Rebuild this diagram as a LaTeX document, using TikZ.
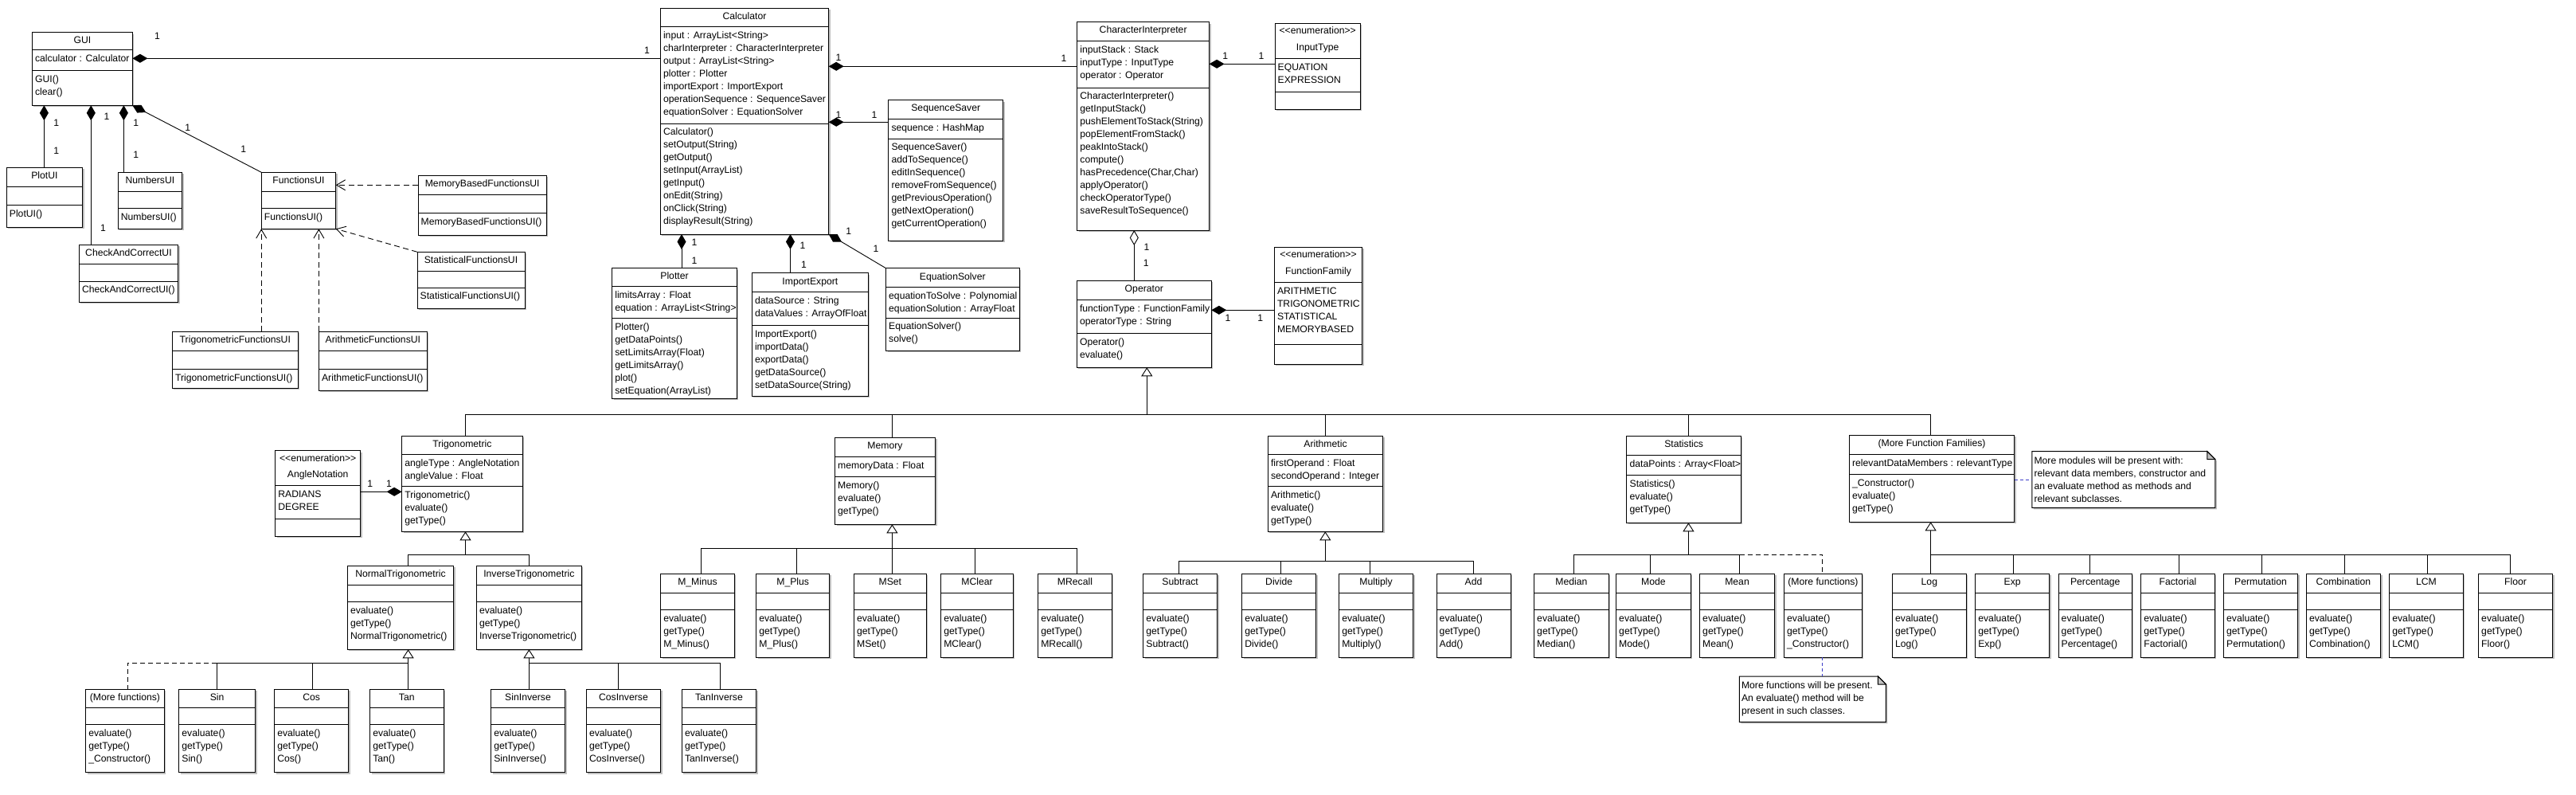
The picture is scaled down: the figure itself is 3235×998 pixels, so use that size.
\documentclass[tikz,border=0pt]{standalone}
\usepackage{fontspec}
\setmainfont{Liberation Sans}
\usetikzlibrary{arrows.meta}
\definecolor{notecol}{RGB}{60,60,200}
\definecolor{shadowcol}{RGB}{190,190,190}
\definecolor{foldcol}{RGB}{192,192,192}
\newcommand\uf{\fontsize{12.2}{16}\selectfont}
\newcommand\fs{\rule{0pt}{10pt}}
\newcommand\stereo{\textless\kern0pt\textless\kern0pt enumeration\kern0pt\textgreater\kern0pt\textgreater}
\tikzset{
 box/.style={draw, line width=1pt, fill=white, inner sep=0pt, outer sep=0pt, rectangle},
 txt/.style={anchor=north west, inner sep=0pt, align=left, font=\uf},
 ttl/.style={anchor=base, inner sep=0pt, font=\uf},
 mult/.style={inner sep=0pt, font=\uf},
 conn/.style={line width=0.9pt},
 comp/.style={conn, {Diamond[length=19pt,width=11pt]}-},
 aggr/.style={conn, {Diamond[open,length=19pt,width=11pt]}-},
 gen/.style={conn, -{Triangle[open,length=11pt,width=14pt]}},
 dep/.style={conn, dash pattern=on 7pt off 4.5pt, -{Straight Barb[length=11pt,width=13pt]}},
 dashedconn/.style={conn, dash pattern=on 6pt off 4pt},
 noteline/.style={conn, notecol, dash pattern=on 4pt off 3pt},
}
% #1 name, #2 L, #3 T, #4 R, #5 B, #6 d1, #7 d2, #8 title, #9 attributes
\newcommand\cls[9]{%
  \fill[shadowcol] ({#2+2},{#3+2}) rectangle ({#4+2},{#5+2});
  \node[box, minimum width={#4-#2}, minimum height={#5-#3}] (#1) at ({(#2+#4)/2},{(#3+#5)/2}) {};
  \draw[line width=1pt] (#2,#6) -- (#4,#6);
  \draw[line width=1pt] (#2,#7) -- (#4,#7);
  \node[ttl] (#1-t) at ({(#2+#4)/2},{(#3+#6)/2+2.3}) {#8};
  \node[txt] (#1-a) at ({#2+3.5},{#6+4.5}) {\fs#9};
  \gdef\lastL{#2}\gdef\lastD{#7}\gdef\lastN{#1}}
\newcommand\enm[9]{%
  \fill[shadowcol] ({#2+2},{#3+2}) rectangle ({#4+2},{#5+2});
  \node[box, minimum width={#4-#2}, minimum height={#5-#3}] (#1) at ({(#2+#4)/2},{(#3+#5)/2}) {};
  \draw[line width=1pt] (#2,#6) -- (#4,#6);
  \draw[line width=1pt] (#2,#7) -- (#4,#7);
  \node[ttl] (#1-s) at ({(#2+#4)/2},{#3+13.6}) {\stereo};
  \node[ttl] (#1-t) at ({(#2+#4)/2},{#3+33.8}) {#8};
  \node[txt] (#1-a) at ({#2+3.5},{#6+4.5}) {\fs#9};
  \gdef\lastL{#2}\gdef\lastD{#7}\gdef\lastN{#1}}
\newcommand\mth[1]{\node[txt] (\lastN-m) at ({\lastL+3.5},{\lastD+4.5}) {\fs#1};}
% #1 name, #2 L, #3 T, #4 R, #5 B, #6 text
\newcommand\umlnote[6]{%
  \fill[shadowcol] ({#2+2},{#3+2}) -- ({#4-8},{#3+2}) -- ({#4+2},{#3+12}) -- ({#4+2},{#5+2}) -- ({#2+2},{#5+2}) -- cycle;
  \node[inner sep=0pt, outer sep=0pt, minimum width={#4-#2}, minimum height={#5-#3}] (#1) at ({(#2+#4)/2},{(#3+#5)/2}) {};
  \draw[line width=1pt, fill=white] (#2,#3) -- ({#4-10},#3) -- (#4,{#3+10}) -- (#4,#5) -- (#2,#5) -- cycle;
  \draw[line width=1pt, fill=foldcol] ({#4-10},#3) -- ({#4-10},{#3+10}) -- (#4,{#3+10}) -- cycle;
  \node[txt] (#1-x) at ({#2+2.5},{#3+5.3}) {\fs#6};}
\begin{document}
\begin{tikzpicture}[x=1pt,y=-1pt]
\fill[white] (0,0) rectangle (3235,998);
\useasboundingbox (0,0) rectangle (3235,998);

% ---------- UI classes
\cls{gui}{40.4}{40.7}{166.4}{132.3}{63}{88.3}{GUI}{calculator : Calculator}\mth{GUI()\\clear()}
\cls{plotui}{8.2}{210.3}{103.6}{285.3}{234.3}{257.7}{PlotUI}{}\mth{PlotUI()}
\cls{checkui}{99.3}{307.3}{223.6}{379}{331.5}{353}{CheckAndCorrectUI}{}\mth{CheckAndCorrectUI()}
\cls{numbersui}{148.2}{216.3}{228.6}{287.3}{240.3}{261.3}{NumbersUI}{}\mth{NumbersUI()}
\cls{funcui}{328.2}{216.3}{421.8}{287.3}{240.3}{261.3}{FunctionsUI}{}\mth{FunctionsUI()}
\cls{memui}{525}{220.3}{686.4}{295.3}{244.3}{267.3}{MemoryBasedFunctionsUI}{}\mth{MemoryBasedFunctionsUI()}
\cls{statui}{524}{316.3}{659}{387.3}{340.7}{361}{StatisticalFunctionsUI}{}\mth{StatisticalFunctionsUI()}
\cls{trigui}{216.4}{416.3}{374.3}{487.3}{440.3}{463.3}{TrigonometricFunctionsUI}{}\mth{TrigonometricFunctionsUI()}
\cls{arithui}{400.4}{416.3}{536.4}{490}{440.3}{463.3}{ArithmeticFunctionsUI}{}\mth{ArithmeticFunctionsUI()}

% ---------- core classes
\cls{calc}{829.3}{10.3}{1040.7}{294}{33.3}{155}{Calculator}{input : ArrayList<String>\\charInterpreter : CharacterInterpreter\\output : ArrayList<String>\\plotter : Plotter\\importExport : ImportExport\\operationSequence : SequenceSaver\\equationSolver : EquationSolver}
\mth{Calculator()\\setOutput(String)\\getOutput()\\setInput(ArrayList)\\getInput()\\onEdit(String)\\onClick(String)\\displayResult(String)}
\cls{plotter}{768.6}{336.7}{925.4}{500}{359.3}{399.3}{Plotter}{limitsArray : Float\\equation : ArrayList<String>}
\mth{Plotter()\\getDataPoints()\\setLimitsArray(Float)\\getLimitsArray()\\plot()\\setEquation(ArrayList)}
\cls{impexp}{944.3}{342.7}{1090.4}{497}{366.7}{408.3}{ImportExport}{dataSource : String\\dataValues : ArrayOfFloat}
\mth{ImportExport()\\importData()\\exportData()\\getDataSource()\\setDataSource(String)}
\cls{eqsolver}{1112.5}{336.7}{1280}{440}{360.7}{399}{EquationSolver}{equationToSolve : Polynomial\\equationSolution : ArrayFloat}
\mth{EquationSolver()\\solve()}
\cls{seqsaver}{1115.8}{125.7}{1259.7}{302.3}{149.3}{174}{SequenceSaver}{sequence : HashMap}
\mth{SequenceSaver()\\addToSequence()\\editInSequence()\\removeFromSequence()\\getPreviousOperation()\\getNextOperation()\\getCurrentOperation()}
\cls{charint}{1352.7}{27.7}{1518.6}{289}{51.7}{110}{CharacterInterpreter}{inputStack : Stack\\inputType : InputType\\operator : Operator}
\mth{CharacterInterpreter()\\getInputStack()\\pushElementToStack(String)\\popElementFromStack()\\peakIntoStack()\\compute()\\hasPrecedence(Char,Char)\\applyOperator()\\checkOperatorType()\\saveResultToSequence()}
\enm{inputtype}{1601}{29.3}{1708.4}{137.3}{73.3}{115.3}{InputType}{EQUATION\\EXPRESSION}
\enm{funcfam}{1600.3}{310.3}{1710.7}{457.3}{354.3}{432.3}{FunctionFamily}{ARITHMETIC\\TRIGONOMETRIC\\STATISTICAL\\MEMORYBASED}
\cls{operator}{1352.3}{352.3}{1521.3}{461.3}{376.3}{418.3}{Operator}{functionType : FunctionFamily\\operatorType : String}
\mth{Operator()\\evaluate()}

% ---------- function families
\cls{trig}{504.6}{547.3}{656.3}{667.3}{570.3}{610.3}{Trigonometric}{angleType : AngleNotation\\angleValue : Float}
\mth{Trigonometric()\\evaluate()\\getType()}
\enm{anglenot}{345.6}{565.7}{452.8}{673.3}{609.3}{651.3}{AngleNotation}{RADIANS\\DEGREE}
\cls{normtrig}{436.3}{710.3}{569.7}{815.3}{734.3}{755.7}{NormalTrigonometric}{}\mth{evaluate()\\getType()\\NormalTrigonometric()}
\cls{invtrig}{598.3}{710.3}{730.4}{815.3}{734.3}{755.7}{InverseTrigonometric}{}\mth{evaluate()\\getType()\\InverseTrigonometric()}
\cls{moretrig}{107.6}{865}{206.3}{969.5}{888.5}{909.5}{(More functions)}{}\mth{evaluate()\\getType()\\\_Constructor()}
\cls{sin}{224.7}{865}{320.5}{969.5}{888.5}{909.5}{Sin}{}\mth{evaluate()\\getType()\\Sin()}
\cls{cos}{344.6}{865}{437.6}{969.5}{888.5}{909.5}{Cos}{}\mth{evaluate()\\getType()\\Cos()}
\cls{tan}{464.6}{865}{557}{969.5}{888.5}{909.5}{Tan}{}\mth{evaluate()\\getType()\\Tan()}
\cls{sininv}{616.6}{865}{709.5}{969.5}{888.5}{909.5}{SinInverse}{}\mth{evaluate()\\getType()\\SinInverse()}
\cls{cosinv}{736.3}{865}{829.6}{969.5}{888.5}{909.5}{CosInverse}{}\mth{evaluate()\\getType()\\CosInverse()}
\cls{taninv}{856.3}{865}{949.6}{969.5}{888.5}{909.5}{TanInverse}{}\mth{evaluate()\\getType()\\TanInverse()}

\cls{memory}{1048.5}{549.3}{1174.5}{658.3}{573.3}{598.7}{Memory}{memoryData : Float}\mth{Memory()\\evaluate()\\getType()}
\cls{mminus}{829.6}{720.3}{922.4}{825.3}{744.3}{765.7}{M\_Minus}{}\mth{evaluate()\\getType()\\M\_Minus()}
\cls{mplus}{949.6}{720.3}{1041.8}{825.3}{744.3}{765.7}{M\_Plus}{}\mth{evaluate()\\getType()\\M\_Plus()}
\cls{mset}{1072.4}{720.3}{1163.3}{825.3}{744.3}{765.7}{MSet}{}\mth{evaluate()\\getType()\\MSet()}
\cls{mclear}{1181.6}{720.3}{1272.4}{825.3}{744.3}{765.7}{MClear}{}\mth{evaluate()\\getType()\\MClear()}
\cls{mrecall}{1303.6}{720.3}{1396.4}{825.3}{744.3}{765.7}{MRecall}{}\mth{evaluate()\\getType()\\MRecall()}

\cls{arith}{1592.3}{547.3}{1736.7}{667.3}{570.3}{610.3}{Arithmetic}{firstOperand : Float\\secondOperand : Integer}\mth{Arithmetic()\\evaluate()\\getType()}
\cls{subtract}{1435.7}{720.3}{1528.6}{825.3}{744.3}{765.7}{Subtract}{}\mth{evaluate()\\getType()\\Subtract()}
\cls{divide}{1559.7}{720.3}{1652.6}{825.3}{744.3}{765.7}{Divide}{}\mth{evaluate()\\getType()\\Divide()}
\cls{multiply}{1681.6}{720.3}{1774.5}{825.3}{744.3}{765.7}{Multiply}{}\mth{evaluate()\\getType()\\Multiply()}
\cls{add}{1804}{720.3}{1897}{825.3}{744.3}{765.7}{Add}{}\mth{evaluate()\\getType()\\Add()}

\cls{stats}{2042.9}{547.3}{2186.4}{656.3}{571.3}{596.7}{Statistics}{dataPoints : Array<Float>}\mth{Statistics()\\evaluate()\\getType()}
\cls{median}{1926.5}{720.3}{2020.4}{825.3}{744.3}{765.7}{Median}{}\mth{evaluate()\\getType()\\Median()}
\cls{mode}{2029.5}{720.3}{2123.3}{825.3}{744.3}{765.7}{Mode}{}\mth{evaluate()\\getType()\\Mode()}
\cls{mean}{2134.5}{720.3}{2228.5}{825.3}{744.3}{765.7}{Mean}{}\mth{evaluate()\\getType()\\Mean()}
\cls{morestat}{2240.4}{720.3}{2338.4}{825.3}{744.3}{765.7}{(More functions)}{}\mth{evaluate()\\getType()\\\_Constructor()}

\cls{morefam}{2322.4}{546.3}{2529.7}{655.3}{570.3}{595.3}{(More Function Families)}{relevantDataMembers : relevantType}\mth{\_Constructor()\\evaluate()\\getType()}
\cls{log}{2376.4}{720.3}{2469.3}{825.3}{744.3}{765.7}{Log}{}\mth{evaluate()\\getType()\\Log()}
\cls{exp}{2480.6}{720.3}{2573.6}{825.3}{744.3}{765.7}{Exp}{}\mth{evaluate()\\getType()\\Exp()}
\cls{perc}{2585}{720.3}{2677.4}{825.3}{744.3}{765.7}{Percentage}{}\mth{evaluate()\\getType()\\Percentage()}
\cls{fact}{2688.6}{720.3}{2781.3}{825.3}{744.3}{765.7}{Factorial}{}\mth{evaluate()\\getType()\\Factorial()}
\cls{perm}{2792.4}{720.3}{2885.6}{825.3}{744.3}{765.7}{Permutation}{}\mth{evaluate()\\getType()\\Permutation()}
\cls{comb}{2896.3}{720.3}{2989.5}{825.3}{744.3}{765.7}{Combination}{}\mth{evaluate()\\getType()\\Combination()}
\cls{lcm}{3000.6}{720.3}{3093.3}{825.3}{744.3}{765.7}{LCM}{}\mth{evaluate()\\getType()\\LCM()}
\cls{floor}{3112.5}{720.3}{3205.6}{825.3}{744.3}{765.7}{Floor}{}\mth{evaluate()\\getType()\\Floor()}

\umlnote{note1}{2551.8}{566.7}{2781.8}{637.3}{More modules will be present with:\\relevant data members, constructor and\\an evaluate method as methods and\\relevant subclasses.}
\umlnote{note2}{2184.3}{849}{2368.3}{906.3}{More functions will be present.\\An evaluate() method will be\\present in such classes.}

% ---------- associations
\draw[comp] (gui.east |- 0,73.3) -- (calc.west |- 0,73.3);
\draw[comp] (55.4,0 |- gui.south) -- (55.4,0 |- plotui.north);
\draw[comp] (114.3,0 |- gui.south) -- (114.3,0 |- checkui.north);
\draw[comp] (155.4,0 |- gui.south) -- (155.4,0 |- numbersui.north);
\draw[comp] (gui.south east) -- (funcui.north west);
\draw[dep] (memui.west |- 0,232.3) -- (funcui.east |- 0,232.3);
\draw[dep] (statui.north west) -- (funcui.south east);
\draw[dep] (funcui.south west |- trigui.north) -- (funcui.south west);
\draw[dep] (arithui.north west) -- (arithui.north west |- funcui.south);

\draw[comp] (calc.east |- 0,83.3) -- (charint.west |- 0,83.3);
\draw[comp] (calc.east |- 0,153.3) -- (seqsaver.west |- 0,153.3);
\draw[comp] (calc.south east) -- (eqsolver.north west);
\draw[comp] (856,0 |- calc.south) -- (856,0 |- plotter.north);
\draw[comp] (992.5,0 |- calc.south) -- (992.5,0 |- impexp.north);
\draw[comp] (charint.east |- 0,80.3) -- (inputtype.west |- 0,80.3);
\draw[aggr] (1424.3,0 |- charint.south) -- (1424.3,0 |- operator.north);
\draw[comp] (operator.east |- 0,389.3) -- (funcfam.west |- 0,389.3);
\draw[comp] (trig.west |- 0,617.3) -- (anglenot.east |- 0,617.3);

% ---------- multiplicities
\node[mult] (m1) at (197.5,45.7) {1};
\node[mult] (m2) at (812.5,63.3) {1};
\node[mult] (m3) at (70.7,154) {1};
\node[mult] (m4) at (70.7,189) {1};
\node[mult] (m5) at (134,146.7) {1};
\node[mult] (m6) at (129.6,286) {1};
\node[mult] (m7) at (170.7,154) {1};
\node[mult] (m8) at (170.7,194.3) {1};
\node[mult] (m9) at (235.7,160) {1};
\node[mult] (m10) at (305.7,187.7) {1};
\node[mult] (m11) at (1053,72.7) {1};
\node[mult] (m12) at (1336,73.3) {1};
\node[mult] (m13) at (1053,144) {1};
\node[mult] (m14) at (1098,144) {1};
\node[mult] (m15) at (1065.7,290) {1};
\node[mult] (m16) at (1100,312.7) {1};
\node[mult] (m17) at (872,304.3) {1};
\node[mult] (m18) at (872,327.3) {1};
\node[mult] (m19) at (1008,308.3) {1};
\node[mult] (m20) at (1009.6,332.3) {1};
\node[mult] (m21) at (1538.7,70.7) {1};
\node[mult] (m22) at (1584,70.7) {1};
\node[mult] (m23) at (1439.9,310.7) {1};
\node[mult] (m24) at (1439.3,330.7) {1};
\node[mult] (m25) at (1542,399.3) {1};
\node[mult] (m26) at (1582.7,399.3) {1};
\node[mult] (m27) at (464.8,607.3) {1};
\node[mult] (m28) at (488.5,607.3) {1};

% ---------- generalizations
\coordinate (busA) at (0,520.7);
\draw[gen] (1440.3,0 |- busA) -- (1440.3,0 |- operator.south);
\draw[conn] (584.5,0 |- trig.north) -- (584.5,0 |- busA) -- (2424.6,0 |- busA) -- (2424.6,0 |- morefam.north);
\foreach \x/\n in {1120.4/memory,1664.3/arith,2120.4/stats} \draw[conn] (\x,0 |- busA) -- (\x,0 |- \n.north);

\coordinate (busT) at (0,696.3);
\draw[gen] (584.5,0 |- busT) -- (584.5,0 |- trig.south);
\draw[conn] (512.6,0 |- normtrig.north) -- (512.6,0 |- busT) -- (664.4,0 |- busT) -- (664.4,0 |- invtrig.north);

\coordinate (busN) at (0,832.3);
\draw[gen] (512.6,0 |- tan.north) -- (512.6,0 |- normtrig.south);
\draw[conn] (272.3,0 |- sin.north) -- (272.3,0 |- busN) -- (512.6,0 |- busN);
\draw[conn] (392.3,0 |- busN) -- (392.3,0 |- cos.north);
\draw[dashedconn] (272.3,0 |- busN) -- (160.4,0 |- busN) -- (160.4,0 |- moretrig.north);
\draw[gen] (664.4,0 |- sininv.north) -- (664.4,0 |- invtrig.south);
\draw[conn] (664.4,0 |- busN) -- (904.5,0 |- busN) -- (904.5,0 |- taninv.north);
\draw[conn] (776.4,0 |- busN) -- (776.4,0 |- cosinv.north);

\coordinate (busM) at (0,688.3);
\draw[gen] (1120.4,0 |- mset.north) -- (1120.4,0 |- memory.south);
\draw[conn] (880.4,0 |- mminus.north) -- (880.4,0 |- busM) -- (1352,0 |- busM) -- (1352,0 |- mrecall.north);
\foreach \x/\n in {1000.5/mplus,1224.5/mclear} \draw[conn] (\x,0 |- busM) -- (\x,0 |- \n.north);

\coordinate (busR) at (0,704.3);
\draw[gen] (1664.3,0 |- busR) -- (1664.3,0 |- arith.south);
\draw[conn] (1480.6,0 |- subtract.north) -- (1480.6,0 |- busR) -- (1850,0 |- busR) -- (1850,0 |- add.north);
\foreach \x/\n in {1608.7/divide,1720.4/multiply} \draw[conn] (\x,0 |- busR) -- (\x,0 |- \n.north);

\coordinate (busS) at (0,696.3);
\draw[gen] (2120.4,0 |- busS) -- (2120.4,0 |- stats.south);
\draw[conn] (1976.9,0 |- median.north) -- (1976.9,0 |- busS) -- (2184.7,0 |- busS) -- (2184.7,0 |- mean.north);
\draw[conn] (2072.7,0 |- busS) -- (2072.7,0 |- mode.north);
\draw[dashedconn] (2184.7,0 |- busS) -- (2288.6,0 |- busS) -- (2288.6,0 |- morestat.north);

\draw[gen] (2424.6,0 |- log.north) -- (2424.6,0 |- morefam.south);
\draw[conn] (2424.6,0 |- busS) -- (3152.4,0 |- busS) -- (3152.4,0 |- floor.north);
\foreach \x/\n in {2528.3/exp,2624.7/perc,2736.5/fact,2840.4/perm,2944.2/comb,3048.6/lcm} \draw[conn] (\x,0 |- busS) -- (\x,0 |- \n.north);

% ---------- note links
\draw[noteline] (morefam.east |- 0,602.3) -- (note1.west |- 0,602.3);
\draw[noteline] (2288.3,0 |- morestat.south) -- (2288.3,0 |- note2.north);
\end{tikzpicture}
\end{document}
